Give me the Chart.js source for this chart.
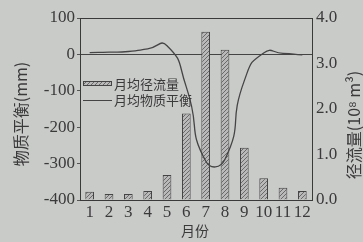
<!DOCTYPE html>
<html><head><meta charset="utf-8">
<script src="https://cdn.jsdelivr.net/npm/chart.js@4/dist/chart.umd.min.js"></script>
<style>html,body{margin:0;padding:0;background:#c9cbc9;}#w{width:363px;height:242px;}</style>
</head><body><div id="w"><canvas id="c"></canvas></div>
<script>
const months = ['1','2','3','4','5','6','7','8','9','10','11','12'];
const runoff = [0.18, 0.13, 0.13, 0.2, 0.55, 1.9, 3.7, 3.3, 1.15, 0.48, 0.27, 0.2];
const massBalance = [5, 6, 8, 15, 24, -90, -293, -288, -72, 4, 3, -1];
const leftTicks = [-400, -300, -200, -100, 0, 100];
const rightTicks = [0, 1, 2, 3, 4];
const seriesNames = ['月均径流量', '月均物质平衡'];
const leftTitle = '物质平衡(mm)';
const rightTitle = '径流量(10⁸ m³)';
const xTitle = '月份';

const ink = '#3a3a3a';
const serif = '"Liberation Serif", "DejaVu Serif", serif';
const cjk = '"Noto Sans CJK SC", sans-serif';

function hatch() {
  const p = document.createElement('canvas');
  p.width = 4; p.height = 4;
  const g = p.getContext('2d');
  g.fillStyle = '#b8b9b8'; g.fillRect(0,0,4,4);
  g.strokeStyle = '#6a6a6a'; g.lineWidth = 1;
  g.beginPath(); g.moveTo(0,4); g.lineTo(4,0); g.moveTo(-1,1); g.lineTo(1,-1); g.moveTo(3,5); g.lineTo(5,3); g.stroke();
  return g.createPattern(p, 'repeat');
}
const pat = hatch();

const deco = {
  id: 'deco',
  beforeDraw(chart) {
    const c = chart.ctx;
    c.save(); c.fillStyle = '#c9cbc9'; c.fillRect(0,0,chart.width,chart.height); c.restore();
  },
  afterDraw(chart) {
    const c = chart.ctx, a = chart.chartArea;
    c.save();
    c.strokeStyle = ink; c.lineWidth = 1;
    c.beginPath(); c.moveTo(a.left, a.top + 0.5); c.lineTo(a.right, a.top + 0.5); c.stroke();
    c.fillStyle = ink; c.textAlign = 'center'; c.textBaseline = 'middle';
    c.save(); c.translate(21, 114); c.rotate(-Math.PI/2);
    c.font = '16px ' + cjk; c.fillText(leftTitle, 0, 0); c.restore();
    c.save(); c.translate(354, 125); c.rotate(-Math.PI/2);
    c.font = '16px ' + cjk; c.fillText(rightTitle, 0, 0); c.restore();
    c.font = '14px ' + cjk; c.fillText(xTitle, 195, 231);
    c.fillStyle = pat; c.fillRect(83, 81, 29, 4);
    c.strokeStyle = '#444'; c.strokeRect(83.5, 81.5, 28, 4);
    c.beginPath(); c.moveTo(83, 100.5); c.lineTo(112, 100.5); c.stroke();
    c.fillStyle = ink; c.textAlign = 'left'; c.font = '13px ' + cjk;
    c.fillText(seriesNames[0], 114, 84);
    c.fillText(seriesNames[1], 114, 100);
    c.restore();
  }
};

new Chart(document.getElementById('c'), {
  data: {
    labels: months,
    datasets: [
      { type: 'line', label: seriesNames[1], data: massBalance, yAxisID: 'y',
        borderColor: '#454545', borderWidth: 1.3, pointRadius: 0, tension: 0.6, order: 0 },
      { type: 'bar', label: seriesNames[0], data: runoff, yAxisID: 'y1',
        backgroundColor: pat, borderColor: '#444', borderWidth: 1,
        barPercentage: 0.45, categoryPercentage: 1, order: 1 }
    ]
  },
  options: {
    responsive: true, maintainAspectRatio: false, animation: false,
    layout: { padding: { top: 18, left: 0, right: 0, bottom: 0 } },
    plugins: { legend: { display: false }, tooltip: { enabled: false } },
    scales: {
      x: {
        offset: true,
        grid: { display: false, drawTicks: false },
        border: { display: true, color: ink, width: 1 },
        ticks: { color: ink, font: { family: serif, size: 17 }, padding: 2, maxRotation: 0, autoSkip: false },
        afterFit(s) { s.height = 42; }
      },
      y: {
        position: 'left', min: -400, max: 100,
        afterBuildTicks(s) { s.ticks = leftTicks.map(v => ({ value: v })); },
        grid: { color: ctx => ctx.tick && ctx.tick.value === 0 ? '#444' : 'rgba(0,0,0,0)',
                tickColor: '#555', tickLength: 3, drawOnChartArea: true },
        border: { display: true, color: ink, width: 1 },
        ticks: { color: ink, font: { family: serif, size: 17 }, padding: 2 },
        afterFit(s) { s.width = 80; }
      },
      y1: {
        position: 'right', min: 0, max: 4,
        afterBuildTicks(s) { s.ticks = rightTicks.map(v => ({ value: v })); },
        grid: { drawOnChartArea: false, drawTicks: false },
        border: { display: true, color: ink, width: 1 },
        ticks: { color: ink, font: { family: serif, size: 17 }, padding: 4, callback: v => Number(v).toFixed(1) },
        afterFit(s) { s.width = 51; }
      }
    }
  },
  plugins: [deco]
});
</script>
</body></html>
